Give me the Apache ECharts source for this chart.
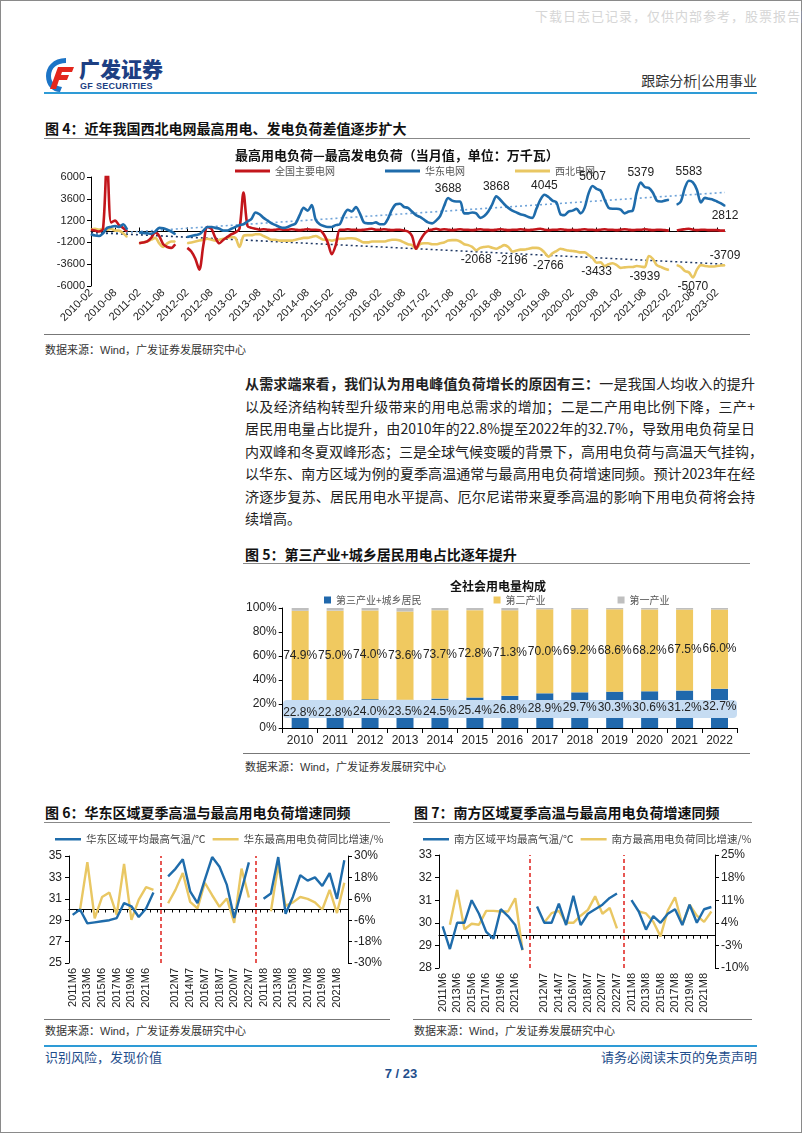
<!DOCTYPE html>
<html><head><meta charset="utf-8">
<script src="https://cdn.jsdelivr.net/npm/echarts/dist/echarts.min.js"></script>
<style>
html,body{margin:0;padding:0;background:#fff;}
body{width:802px;height:1133px;position:relative;overflow:hidden;font-family:"Noto Sans CJK SC","Liberation Sans",sans-serif;color:#222;}
.frame{position:absolute;left:0;top:0;width:800px;height:1131px;border:1px solid #8a8a8a;}
.abs{position:absolute;white-space:nowrap;}
.hl{position:absolute;height:0;}
.ftitle{position:absolute;font-size:14px;font-weight:700;color:#111;white-space:nowrap;line-height:16px;}
.src{position:absolute;font-size:11px;color:#333;white-space:nowrap;line-height:13px;font-family:"Noto Sans CJK SC","Liberation Sans",sans-serif;}
.src span{font-family:"Liberation Sans",sans-serif;}
.para{position:absolute;left:245px;width:510px;font-size:14px;line-height:16px;color:#222;text-align:justify;text-align-last:justify;white-space:nowrap;}
.chart{position:absolute;}
</style>
</head><body>
<div class="frame"></div>
<div class="abs" style="left:535px;top:6px;font-size:13px;color:#d6d6d6;letter-spacing:1px;">下载日志已记录，仅供内部参考，股票报告网</div>

<svg style="position:absolute;left:44px;top:56px" width="34" height="38" viewBox="0 0 34 38">
 <path d="M22 2 C9 2 2 11 2 20 C2 30 9 36 16 36 L18 31 C11 30 7 26 7 20 C7 12 13 7 22 7 Z" fill="#1C74C6"/>
 <path d="M14 11 L30 11 L28 16 L18 16 L17 19 L25 19 L23 24 L15 24 L12 33 L6 33 Z" fill="#E3261C"/>
</svg>
<div class="abs" style="left:79px;top:56px;font-size:21px;font-weight:900;color:#1D3F83;line-height:24px;letter-spacing:0px;">广发证券</div>
<div class="abs" style="left:80px;top:81px;font-size:9px;font-weight:700;color:#1D3F83;line-height:10px;font-family:'Liberation Sans',sans-serif;letter-spacing:0.3px;">GF SECURITIES</div>
<div class="abs" style="right:45px;top:72px;font-size:14px;color:#333;line-height:16px;">跟踪分析|公用事业</div>
<div class="hl" style="left:44px;width:713px;top:92px;border-top:2px solid #2E9BD6;"></div>

<div class="ftitle" style="left:45px;top:120px;">图 4：近年我国西北电网最高用电、发电负荷差值逐步扩大</div>
<div class="hl" style="left:44px;width:706px;top:138px;border-top:1px solid #888;"></div>
<div id="c4" class="chart" style="left:44px;top:140px;width:712px;height:194px;"></div>
<div class="hl" style="left:44px;width:706px;top:334px;border-top:1.5px solid #777;"></div>
<div class="src" style="left:45px;top:343px;">数据来源：<span>Wind</span>，广发证券发展研究中心</div>

<div class="para" style="top:375px;"><b>从需求端来看，我们认为用电峰值负荷增长的原因有三：</b>一是我国人均收入的提升</div>
<div class="para" style="top:397.5px;">以及经济结构转型升级带来的用电总需求的增加；二是二产用电比例下降，三产+</div>
<div class="para" style="top:420px;">居民用电量占比提升，由2010年的22.8%提至2022年的32.7%，导致用电负荷呈日</div>
<div class="para" style="top:442.5px;">内双峰和冬夏双峰形态；三是全球气候变暖的背景下，高用电负荷与高温天气挂钩，</div>
<div class="para" style="top:465px;">以华东、南方区域为例的夏季高温通常与最高用电负荷增速同频。预计2023年在经</div>
<div class="para" style="top:487.5px;">济逐步复苏、居民用电水平提高、厄尔尼诺带来夏季高温的影响下用电负荷将会持</div>
<div class="para" style="top:510px;text-align-last:left;">续增高。</div>

<div class="ftitle" style="left:245px;top:546px;">图 5：第三产业+城乡居民用电占比逐年提升</div>
<div class="hl" style="left:243px;width:507px;top:563px;border-top:1px solid #888;"></div>
<div id="c5" class="chart" style="left:243px;top:566px;width:510px;height:186px;"></div>
<div class="hl" style="left:243px;width:507px;top:753px;border-top:1.5px solid #777;"></div>
<div class="src" style="left:245px;top:760px;">数据来源：<span>Wind</span>，广发证券发展研究中心</div>

<div class="ftitle" style="left:45px;top:804px;">图 6：华东区域夏季高温与最高用电负荷增速同频</div>
<div class="hl" style="left:44px;width:346px;top:822px;border-top:1px solid #888;"></div>
<div id="c6" class="chart" style="left:44px;top:826px;width:356px;height:192px;"></div>
<div class="hl" style="left:44px;width:346px;top:1019px;border-top:1.5px solid #777;"></div>
<div class="src" style="left:45px;top:1024px;">数据来源：<span>Wind</span>，广发证券发展研究中心</div>

<div class="ftitle" style="left:414px;top:804px;">图 7：南方区域夏季高温与最高用电负荷增速同频</div>
<div class="hl" style="left:413px;width:339px;top:822px;border-top:1px solid #888;"></div>
<div id="c7" class="chart" style="left:413px;top:826px;width:352px;height:192px;"></div>
<div class="hl" style="left:413px;width:339px;top:1019px;border-top:1.5px solid #777;"></div>
<div class="src" style="left:414px;top:1024px;">数据来源：<span>Wind</span>，广发证券发展研究中心</div>

<div class="hl" style="left:44px;width:713px;top:1045px;border-top:2px solid #2E9BD6;"></div>
<div class="abs" style="left:45px;top:1049px;font-size:13px;color:#1F4E8C;line-height:15px;">识别风险，发现价值</div>
<div class="abs" style="right:45px;top:1049px;font-size:13px;color:#1F4E8C;line-height:15px;">请务必阅读末页的免责声明</div>
<div class="abs" style="left:0;width:802px;text-align:center;top:1066px;font-size:13px;font-weight:700;color:#1F4E8C;line-height:15px;font-family:'Liberation Sans',sans-serif;">7 / 23</div>

<script>
// ---------- Figure 4 data ----------
const fig4Start = [2010, 2]; const fig4Count = 159;
const months = [];
for (let k = 0; k < fig4Count; k++) { const m = fig4Start[1] - 1 + k; const y = fig4Start[0] + Math.floor(m / 12); const mm = (m % 12) + 1; months.push(y + '-' + (mm < 10 ? '0' + mm : mm)); }
const eastGrid = [-300,-450,-500,-200,400,500,600,500,800,200, null,null,
 -100,-150,-200,-250,0,400,350,200,0,-300, null,null,
 -600,-500,-400,-300,100,500,500,400,300,100,100,300,
 500,700,800,1100,1400,2100,1900,1500,1200,900,700,500,
 400,500,700,900,1800,2600,2300,2900,1300,800,600,500,
 500,700,800,1800,2400,2200,2700,2000,1000,900,900,1000,
 800,800,1400,2400,3000,3050,2700,2600,2200,1800,1600,1300,
 1000,900,1200,1700,2800,3688,3400,3300,3300,2000,2000,2100,
 2000,1500,1700,2200,3000,3868,3500,3000,2600,2300,2100,1900,
 1800,1600,1500,2500,3500,4045,3800,3400,3200,1900,1800,2200,
 2300,2500,2000,2600,4200,5007,4700,4500,3500,2600,2500,2500,
 2400,2000,2200,2300,4300,5379,4900,4800,4300,3400,3300,3400,
 3500,null,2950,3300,4800,5583,5400,4600,3200,3700,3600,3500,
 3300,3100,2812];
const nationalGrid = [200,100,0,300,8000,1000,1200,700,400,0, null,null,
 -1300,-1200,-1100,-700,-100,-500,-1400,-1700,-1800,-1400, null,null,
 -1800,-2200,-3000,-4200,-1500,500,300,-700,-1300,-900,-600,-300,
 -100,300,4300,600,400,300,200,250,200,150,200,250,
 200,200,250,200,150,200,250,200,200,150,-300,-1200,
 -2500,-1500,200,200,250,200,200,150,200,250,300,200,
 200,250,200,150,200,200,100,0,-500,-1900,-1000,-300,
 100,200,300,200,250,200,150,200,250,200,200,150,
 200,250,200,200,150,200,250,200,150,200,200,250,
 200,150,200,250,300,200,150,200,200,250,200,150,
 200,150,200,250,200,200,150,200,250,200,200,150,
 200,250,200,150,200,200,250,200,150,200,200,150,
 100,null,100,200,250,300,200,150,200,200,150,150,
 150,100,100];
const northwestGrid = [200,300,200,300,200,300,100,100,-200,-600, null,null,
 -1300,-1200,-1100,-900,-700,-1300,-1700,-1300,-1100,-1100, null,null,
 -1300,-1200,-1100,-1000,-900,-800,-900,-1000,-900,-800,-700,-600,
 -700,-1700,-500,-400,-400,-300,-300,-500,-700,-900,-900,-1000,
 -1000,-1000,-1000,-900,-800,-700,-700,-600,-500,-700,-900,-900,
 -1000,-900,-800,-800,-750,-750,-800,-1000,-1200,-1200,-1100,-1100,
 -1100,-1100,-1000,-900,-900,-1000,-1200,-1400,-1500,-1900,-1400,-1300,
 -1300,-1400,-1400,-1300,-1200,-1000,-950,-950,-1100,-1400,-1500,-1700,
 -2068,-1800,-1700,-1650,-1800,-1900,-1700,-1500,-1700,-2196,-2100,-2000,
 -2000,-1900,-1800,-1800,-1900,-2300,-2766,-2400,-2150,-1900,-2000,-2100,
 -2150,-2200,-2300,-2300,-2600,-2900,-3433,-3400,-3800,-3600,-3500,-3700,
 -4000,-3950,-3900,-3900,-3800,-3850,-3939,-2700,-3000,-3700,-3900,-4100,
 -4250,null,-3700,-3900,-4350,-4500,-5070,-4200,-3700,-3800,-3850,-3850,
 -3800,-3750,-3709];
const eastTrendEnds = [-350, 4300];
const northwestTrendEnds = [-100, -3600];
const eastLabelIdx = {89:'top',101:'top',113:'top',125:'top',137:'top',149:'top',158:'bottom'};
const nwLabelIdx = {96:'bottom',105:'bottom',114:'bottom',126:'bottom',138:'bottom',150:'bottom',158:'top'};
const fig4YTicks = {min:-6000, max:6000, interval:2400};

// ---------- Figure 5 data ----------
const years5 = ['2010','2011','2012','2013','2014','2015','2016','2017','2018','2019','2020','2021','2022'];
const tertiaryResidential = [22.8,22.8,24.0,23.5,24.5,25.4,26.8,28.9,29.7,30.3,30.6,31.2,32.7];
const secondary = [74.9,75.0,74.0,73.6,73.7,72.8,71.3,70.0,69.2,68.6,68.2,67.5,66.0];
const primary = [2.3,2.2,2.0,2.9,1.8,1.8,1.9,1.1,1.1,1.1,1.2,1.3,1.3];

// ---------- Figure 6 / 7 data ----------
const cats67 = ['2011M6','2012M6','2013M6','2014M6','2015M6','2016M6','2017M6','2018M6','2019M6','2020M6','2021M6','2022M6',' ',
 '2011M7','2012M7','2013M7','2014M7','2015M7','2016M7','2017M7','2018M7','2019M7','2020M7','2021M7','2022M7','  ',
 '2011M8','2012M8','2013M8','2014M8','2015M8','2016M8','2017M8','2018M8','2019M8','2020M8','2021M8','2022M8'];
const labels67 = ['2011M6','','2013M6','','2015M6','','2017M6','','2019M6','','2021M6','','',
 '','2012M7','','2014M7','','2016M7','','2018M7','','2020M7','','2022M7','',
 '2011M8','','2013M8','','2015M8','','2017M8','','2019M8','','2021M8',''];
const dividerIdx = [12, 25];
const eastTemp = [29.5,30.0,28.7,28.8,28.9,29.0,29.2,30.6,30.3,29.3,30.1,31.6, null,
 33.1,33.8,34.7,31.7,30.6,32.8,34.9,34.0,32.3,29.2,31.8,34.4, null,
 31.0,31.5,34.9,29.6,31.2,33.2,32.7,33.0,32.2,33.4,31.0,34.6];
const eastLoadYoy = [null,-0.2,26.5,-5.0,7.0,9.5,-3.0,25.5,-5.8,5.5,12.5,11.0, null,
 3.5,11.0,20.5,4.3,0.6,15.0,8.0,1.5,6.2,-7.5,22.9,6.7, null,
 null,-1.0,25.0,2.0,4.0,7.0,6.0,4.0,0.0,11.0,-2.0,15.0];
const southTemp = [29.84,28.84,30.0,30.0,31.0,30.4,29.6,29.3,30.6,30.3,29.9,28.8, null,
 30.72,30.0,30.0,30.85,29.9,31.2,29.9,30.4,30.6,30.8,31.1,31.3, null,
 31.0,30.5,29.7,30.3,30.0,30.4,30.6,29.9,30.8,30.0,30.6,30.7];
const southLoadYoy = [null,3.4,14.2,2.0,3.7,3.4,7.7,7.7,7.5,7.5,11.6,-4.5, null,
 null,4.1,7.0,7.7,4.0,4.0,6.2,8.0,12.2,6.8,8.6,2.3, null,
 null,7.5,6.9,4.3,-0.2,7.8,11.9,3.4,9.6,6.2,4.3,7.5];

// ---------- colours / fonts ----------
const RED='#C3161C', BLUE='#1F6CAB', GOLD='#E9C763', GRAY='#BFBFBF';
const NUMF='"Liberation Sans","Noto Sans CJK SC",sans-serif';
const CJKF='"Noto Sans CJK SC",sans-serif';

function labelled(arr, spec, extra){
  return arr.map((v,i)=> (spec[i] && v!=null) ? {value:v, label:Object.assign({show:true, position:spec[i]}, extra)} : v);
}

// ---------- Chart 4 ----------
const c4 = echarts.init(document.getElementById('c4'), null, {renderer:'canvas'});
const lab4 = {fontFamily:NUMF, fontSize:12, color:'#222', distance:3};
const lineBase = {type:'line', smooth:0.3, showSymbol:true, showAllSymbol:true, symbol:'circle', symbolSize:1, connectNulls:false};
c4.setOption({
  animation:false,
  textStyle:{fontFamily:NUMF},
  title:{text:'最高用电负荷—最高发电负荷（当月值，单位：万千瓦）', left:186, top:4,
    textStyle:{fontFamily:CJKF, fontSize:13, fontWeight:'bold', color:'#111'}},
  legend:{data:['全国主要电网','华东电网','西北电网'], left:186, top:21, icon:'rect', itemWidth:35, itemHeight:3, itemGap:50,
    textStyle:{fontFamily:CJKF, fontSize:10, color:'#555'}},
  grid:{left:47, right:31, top:37, height:109},
  xAxis:[
    {type:'category', data:months, boundaryGap:false,
     axisLine:{show:false, onZero:false}, axisTick:{show:false},
     axisLabel:{interval:5, rotate:45, fontFamily:NUMF, fontSize:11, color:'#222', margin:5}},
    {type:'category', data:months, boundaryGap:false, position:'bottom',
     axisLine:{show:true, onZero:true, lineStyle:{color:'#000', width:1}},
     axisTick:{show:true, inside:true, interval:5, length:4, lineStyle:{color:'#000'}},
     axisLabel:{show:false}}
  ],
  yAxis:{type:'value', min:fig4YTicks.min, max:fig4YTicks.max, interval:fig4YTicks.interval,
    axisLine:{show:true, lineStyle:{color:'#000'}}, axisTick:{show:true, length:4, lineStyle:{color:'#000'}},
    splitLine:{show:false}, axisLabel:{fontFamily:NUMF, fontSize:11, color:'#222', margin:6, formatter:v=>String(v)}},
  series:[
    Object.assign({}, lineBase, {name:'全国主要电网', data:nationalGrid, showSymbol:false,
     lineStyle:{color:RED, width:2.6}, itemStyle:{color:RED}, z:3}),
    Object.assign({}, lineBase, {name:'西北电网', data:labelled(northwestGrid, nwLabelIdx, lab4),
     lineStyle:{color:GOLD, width:2.6}, itemStyle:{color:GOLD}, z:2}),
    Object.assign({}, lineBase, {name:'华东电网', data:labelled(eastGrid, eastLabelIdx, lab4),
     lineStyle:{color:BLUE, width:2.6}, itemStyle:{color:BLUE}, z:4}),
    {name:'华东趋势', type:'line', data:[[months[0], eastTrendEnds[0]], [months[fig4Count-1], eastTrendEnds[1]]], showSymbol:false,
     lineStyle:{color:'#6FA3D8', width:1.6, type:[2,3]}, z:1},
    {name:'西北趋势', type:'line', data:[[months[0], northwestTrendEnds[0]], [months[fig4Count-1], northwestTrendEnds[1]]], showSymbol:false,
     lineStyle:{color:'#1F3864', width:1.6, type:[2,3]}, z:1}
  ]
});

// ---------- Chart 5 ----------
const c5 = echarts.init(document.getElementById('c5'));
const lab5 = {fontFamily:NUMF, fontSize:12, color:'#222'};
c5.setOption({
  animation:false,
  title:{text:'全社会用电量构成', left:'center', top:9, textAlign:'left',
    textStyle:{fontFamily:CJKF, fontSize:12, fontWeight:'bold', color:'#111'}},
  legend:{data:['第三产业+城乡居民','第二产业','第一产业'], left:76, top:24, icon:'rect', itemWidth:7, itemHeight:7, itemGap:72,
    textStyle:{fontFamily:CJKF, fontSize:10, color:'#555'}},
  grid:{left:39, top:42, width:455, height:120},
  graphic:[{type:'rect', shape:{x:40, y:134, width:454, height:18, r:4}, style:{fill:'#C6DCF2'}, z:5}],
  xAxis:{type:'category', data:years5, axisLine:{lineStyle:{color:'#000'}}, axisTick:{show:true, lineStyle:{color:'#000'}},
    axisLabel:{fontFamily:NUMF, fontSize:12, color:'#222', margin:7}},
  yAxis:{type:'value', min:0, max:100, interval:20, axisLine:{show:true, lineStyle:{color:'#000'}},
    axisTick:{show:true, length:4, lineStyle:{color:'#000'}}, splitLine:{show:false},
    axisLabel:{formatter:'{value}%', fontFamily:NUMF, fontSize:12, color:'#222', margin:6}},
  series:[
    {name:'第三产业+城乡居民', type:'bar', stack:'t', data:tertiaryResidential, barWidth:17, itemStyle:{color:'#2068AC'}, z:2},
    {name:'第二产业', type:'bar', stack:'t', data:secondary, barWidth:17, itemStyle:{color:'#F0C960'}, z:2,
     label:{show:true, position:'inside', formatter:p=>p.value.toFixed(1)+'%', ...lab5}},
    {name:'第一产业', type:'bar', stack:'t', data:primary, barWidth:17, itemStyle:{color:GRAY}, z:2},
    {name:'占比标签', type:'bar', data:tertiaryResidential, barWidth:17, barGap:'-100%', itemStyle:{color:'rgba(0,0,0,0)'}, z:10,
     label:{show:true, position:'inside', offset:[0,-2], formatter:p=>p.value.toFixed(1)+'%', ...lab5}}
  ]
});

// ---------- Charts 6 & 7 ----------
function dualChart(el, opt){
  const c = echarts.init(document.getElementById(el));
  c.setOption({
    animation:false,
    legend:{data:[opt.n1, opt.n2], left:opt.legendLeft, top:3, width:420, icon:'rect', itemWidth:26, itemHeight:2.5, itemGap:7,
      textStyle:{fontFamily:CJKF, fontSize:10.5, color:'#444'}},
    grid:{left:opt.left, top:opt.top, width:opt.width, height:opt.height},
    xAxis:{type:'category', data:cats67, boundaryGap:true, axisLine:{lineStyle:{color:'#000'}},
      axisTick:{show:true, interval:0, length:3, lineStyle:{color:'#000'}},
      axisLabel:{interval:0, rotate:90, fontFamily:NUMF, fontSize:11, color:'#222', margin:5, formatter:(v,i)=>labels67[i]}},
    yAxis:[
      {type:'value', min:opt.l[0], max:opt.l[1], interval:opt.l[2], axisLine:{show:true, lineStyle:{color:'#000'}},
       axisTick:{show:true, length:4, lineStyle:{color:'#000'}}, splitLine:{show:false},
       axisLabel:{fontFamily:NUMF, fontSize:12, color:'#222', margin:7}},
      {type:'value', min:opt.r[0], max:opt.r[1], interval:opt.r[2], position:'right', axisLine:{show:true, lineStyle:{color:'#000'}},
       axisTick:{show:true, length:4, lineStyle:{color:'#000'}}, splitLine:{show:false},
       axisLabel:{formatter:'{value}%', fontFamily:NUMF, fontSize:12, color:'#222', margin:6}}
    ],
    series:[
      {name:opt.n1, type:'line', data:opt.d1, yAxisIndex:0, showSymbol:false, symbol:'none', connectNulls:false,
       lineStyle:{color:BLUE, width:2.4}, itemStyle:{color:BLUE}, z:3,
       markLine:{silent:true, symbol:'none', label:{show:false}, lineStyle:{color:'#E0201B', type:[4,3], width:1.5},
         data:dividerIdx.map(i=>({xAxis:i}))}},
      {name:opt.n2, type:'line', data:opt.d2, yAxisIndex:1, showSymbol:false, symbol:'none', connectNulls:false,
       lineStyle:{color:GOLD, width:2.4}, itemStyle:{color:GOLD}, z:2}
    ]
  });
}
dualChart('c6', {n1:'华东区域平均最高气温/℃', n2:'华东最高用电负荷同比增速/%', d1:eastTemp, d2:eastLoadYoy,
  legendLeft:6, left:25, top:30, width:279, height:107, l:[25,35,2], r:[-30,30,12]});
dualChart('c7', {n1:'南方区域平均最高气温/℃', n2:'南方最高用电负荷同比增速/%', d1:southTemp, d2:southLoadYoy,
  legendLeft:5, left:26, top:29, width:276, height:113, l:[28,33,1], r:[-10,25,7]});
</script>
</body></html>
